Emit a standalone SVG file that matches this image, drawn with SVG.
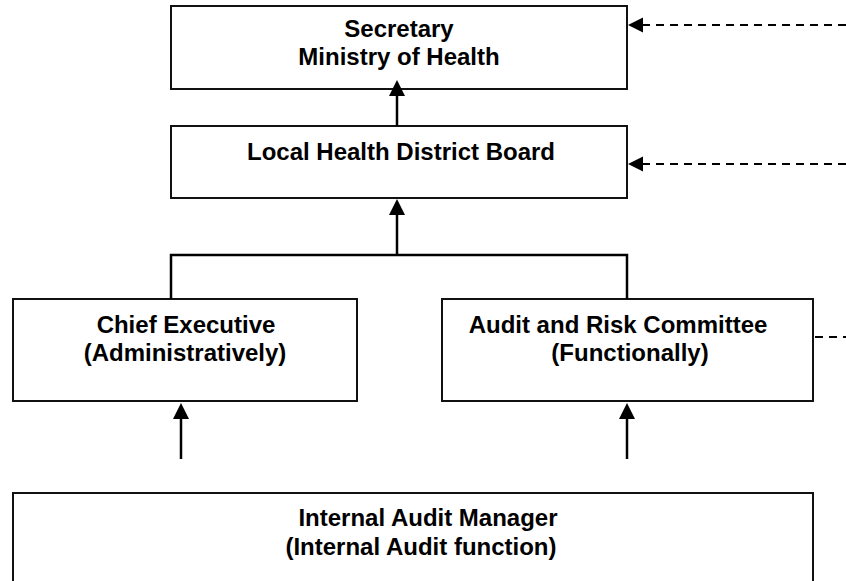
<svg xmlns="http://www.w3.org/2000/svg" width="846" height="581" viewBox="0 0 846 581">
<style>
.box{fill:#fff;stroke:#111;stroke-width:2}
.t{font-family:"Liberation Sans",Arial,sans-serif;font-weight:bold;font-size:24px;fill:#000}
.c{text-anchor:middle}
.ln{fill:none;stroke:#000;stroke-width:2.5}
.dash{fill:none;stroke:#000;stroke-width:2;stroke-dasharray:8 6}
</style>
<defs>
<marker id="ah" markerUnits="userSpaceOnUse" markerWidth="16" markerHeight="16" refX="2" refY="8" orient="auto" viewBox="0 0 16 16">
<path d="M0,0 L16,8 L0,16 z" fill="#000"/>
</marker>
<marker id="ahs" markerUnits="userSpaceOnUse" markerWidth="16" markerHeight="16" refX="2" refY="7.5" orient="auto" viewBox="0 0 16 15">
<path d="M0,0 L15,7.5 L0,15 z" fill="#000"/>
</marker>
</defs>
<g id="secretary">
<rect class="box" x="171" y="6" width="456" height="83"/>
<text class="t c" x="399" y="37">Secretary</text>
<text class="t c" x="399" y="65">Ministry of Health</text>
</g>
<g id="lhd-board">
<rect class="box" x="171" y="126" width="456" height="72"/>
<text class="t c" x="401" y="160">Local Health District Board</text>
</g>
<g id="chief-executive">
<rect class="box" x="13" y="299" width="344" height="102"/>
<text class="t c" x="186" y="333">Chief Executive</text>
<text class="t c" x="185" y="361">(Administratively)</text>
</g>
<g id="audit-risk">
<rect class="box" x="442" y="299" width="371" height="102"/>
<text class="t c" x="618" y="333">Audit and Risk Committee</text>
<text class="t c" x="630" y="361">(Functionally)</text>
</g>
<g id="internal-audit">
<rect class="box" x="13" y="493" width="800" height="100"/>
<text class="t c" x="428" y="526">Internal Audit Manager</text>
<text class="t c" x="421" y="555">(Internal Audit function)</text>
</g>
<g id="connectors">
<line class="ln" x1="397" y1="126" x2="397" y2="94" marker-end="url(#ah)"/>
<line class="ln" x1="397" y1="255" x2="397" y2="213" marker-end="url(#ah)"/>
<polyline class="ln" points="171,299 171,255 627,255 627,299"/>
<line class="ln" x1="181" y1="459" x2="181" y2="417" marker-end="url(#ah)"/>
<line class="ln" x1="627" y1="459" x2="627" y2="417" marker-end="url(#ah)"/>
<line class="dash" x1="846" y1="25" x2="641" y2="25" marker-end="url(#ahs)"/>
<line class="dash" x1="846" y1="164" x2="641" y2="164" marker-end="url(#ahs)"/>
<line class="dash" x1="815" y1="337" x2="846" y2="337"/>
</g>
</svg>
